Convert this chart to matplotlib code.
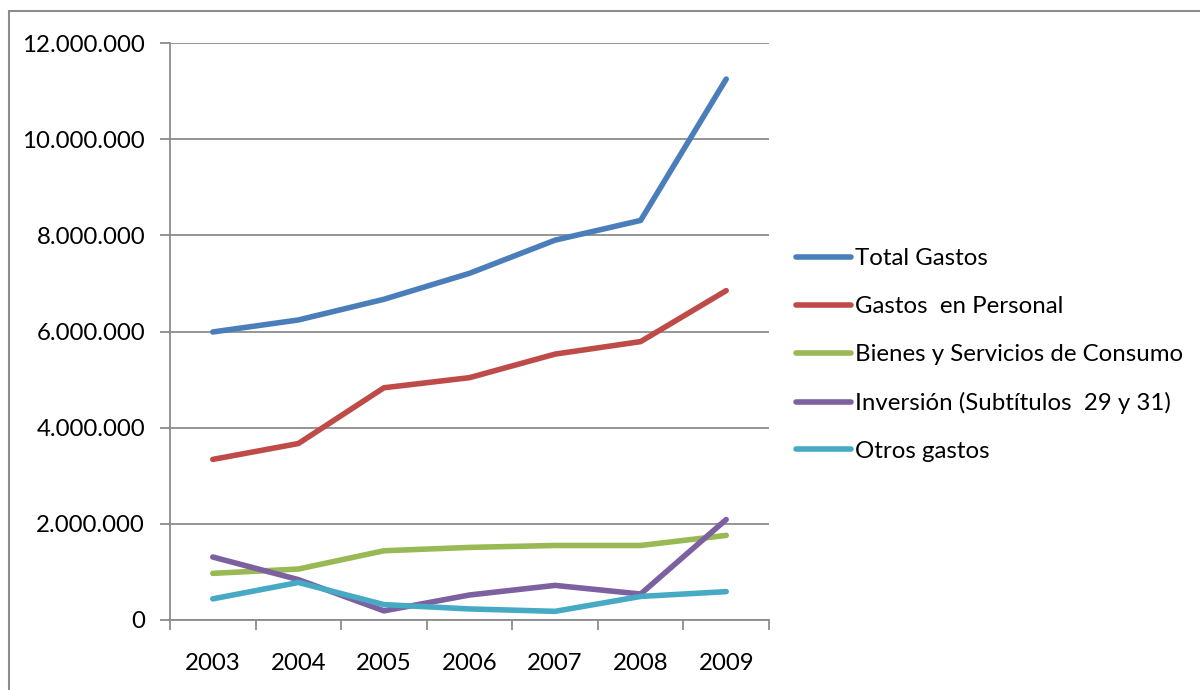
import numpy as np
from matplotlib import pyplot as plt
from matplotlib.patches import Rectangle
from matplotlib.ticker import FuncFormatter, FixedLocator


years = ["2003", "2004", "2005", "2006", "2007", "2008", "2009"]

total_gastos = [5990000, 6240000, 6670000, 7210000, 7900000, 8310000, 11250000]
gastos_personal = [3340000, 3670000, 4830000, 5040000, 5530000, 5790000, 6850000]
bienes_servicios = [970000, 1060000, 1440000, 1510000, 1550000, 1550000, 1760000]
inversion = [1310000, 840000, 190000, 520000, 720000, 540000, 2090000]
otros_gastos = [440000, 780000, 320000, 230000, 180000, 490000, 590000]

series_names = [
    "Total Gastos",
    "Gastos  en Personal",
    "Bienes y Servicios de Consumo",
    "Inversión (Subtítulos  29 y 31)",
    "Otros gastos",
]
series_values = [total_gastos, gastos_personal, bienes_servicios, inversion, otros_gastos]
colors = ["#4A7EBB", "#BE4B48", "#98B954", "#7D60A0", "#46AAC5"]

plt.rcParams["font.family"] = ["Lato", "DejaVu Sans"]
GRID = "#8C8C8C"
FS = 17.3

fig = plt.figure(figsize=(12, 6.9), dpi=100)
# outer chart border (runs off the right and bottom edge)
fig.patches.append(Rectangle((9 / 1200, -0.05), 1.2, 1 - 11 / 690 + 0.05,
                             transform=fig.transFigure, fill=False,
                             edgecolor=GRID, linewidth=1.5))

ax = fig.add_axes([170 / 1200, 1 - 620 / 690, 599 / 1200, 577 / 690])

x = np.arange(len(years))
for name, vals, c in zip(series_names, series_values, colors):
    ax.plot(x, vals, color=c, linewidth=4, label=name,
            solid_capstyle="round", solid_joinstyle="round")

ax.set_xlim(-0.5, len(years) - 0.5)
ax.set_ylim(0, 12000000)
ax.set_yticks(np.arange(0, 12000001, 2000000))
ax.yaxis.set_major_formatter(FuncFormatter(lambda v, p: "{:,.0f}".format(v).replace(",", ".")))
ax.yaxis.grid(True, color=GRID, linewidth=1.3)
ax.set_axisbelow(True)

ax.set_xticks(x)
ax.set_xticklabels(years)
ax.xaxis.set_minor_locator(FixedLocator(np.arange(-0.5, len(years), 1)))
ax.tick_params(axis="x", which="major", length=0, pad=24, labelsize=FS)
ax.tick_params(axis="x", which="minor", length=7, width=1.3, color=GRID, direction="out")
ax.tick_params(axis="y", length=7, width=1.3, color=GRID, pad=11, labelsize=FS)

for side in ["top", "right"]:
    ax.spines[side].set_visible(False)
for side in ["left", "bottom"]:
    ax.spines[side].set_color(GRID)
    ax.spines[side].set_linewidth(1.3)

leg = fig.legend(loc="center left", bbox_to_anchor=(774 / 1200, 1 - 355 / 690),
                 frameon=False, fontsize=FS, handlelength=2.3, handletextpad=0.17,
                 labelspacing=1.12)
for line in leg.get_lines():
    line.set_linewidth(4)
    line.set_solid_capstyle("round")

plt.savefig("out.png", dpi=100)
